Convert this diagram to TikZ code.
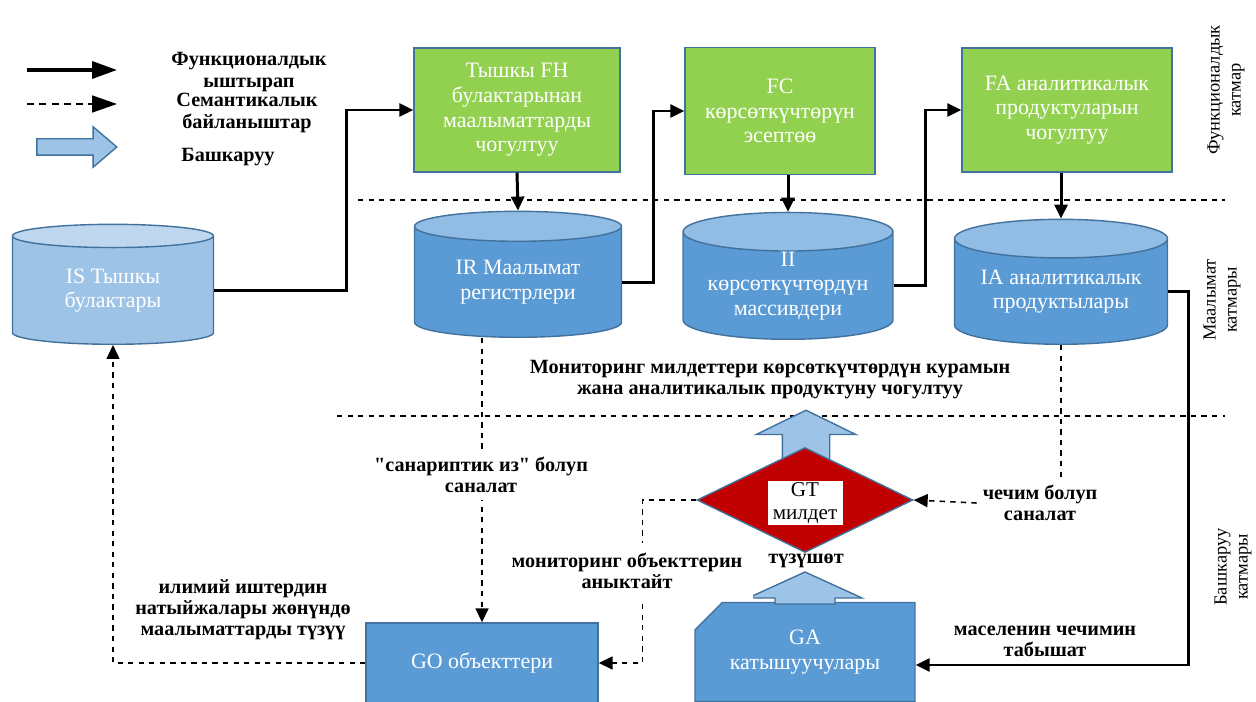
\documentclass[tikz,border=0pt]{standalone}
\usepackage{fontspec}
\setmainfont{Liberation Serif}
\usetikzlibrary{arrows.meta,positioning,shapes.geometric,shapes.arrows,shapes.misc,calc}
\definecolor{boxgreen}{RGB}{146,208,80}
\definecolor{edgeblue}{RGB}{65,113,156}
\definecolor{cylblue}{RGB}{91,155,213}
\definecolor{cyltop}{RGB}{145,188,228}
\definecolor{paleblue}{RGB}{157,195,230}
\definecolor{paletop}{RGB}{190,215,238}
\definecolor{taskred}{RGB}{192,0,0}

\begin{document}
\begin{tikzpicture}[
    x=0.02cm, y=-0.02cm,
    func/.style={rectangle, draw=edgeblue, line width=0.8pt, fill=boxgreen, text=white, align=center, inner sep=0pt, font=\fontsize{12.5}{14}\selectfont},
    store/.style={cylinder, shape border rotate=90, aspect=0.24, draw=edgeblue, line width=0.8pt, cylinder uses custom fill, cylinder body fill=cylblue, cylinder end fill=cyltop, text=white, align=center, inner sep=0pt, anchor=south, font=\fontsize{12.5}{14}\selectfont},
    source/.style={store, cylinder body fill=paleblue, cylinder end fill=paletop},
    actor/.style={rectangle, draw=edgeblue, line width=0.8pt, fill=cylblue, text=white, align=center, inner sep=0pt, font=\fontsize{12.5}{14}\selectfont},
    ctrl/.style={single arrow, draw=edgeblue, line width=0.8pt, fill=paleblue},
    ctrlpath/.style={draw=edgeblue, line width=0.8pt, fill=paleblue, line join=miter},
    lbl/.style={align=center, font=\fontsize{11.5}{12}\selectfont\bfseries},
    layer/.style={align=center, rotate=90, font=\fontsize{10.5}{12}\selectfont},
    flow/.style={-{Triangle[length=0.28cm, width=0.26cm]}, line width=1.7pt},
    sem/.style={-{Triangle[length=0.28cm, width=0.26cm]}, line width=0.9pt, dashed},
    bigtip/.style={-{Triangle[length=0.5cm, width=0.34cm]}}
]
    \useasboundingbox (0,0) rectangle (1256,702);

    % legend
    \coordinate (lgs1) at (27,70);  \coordinate (lgs2) at (117,70);
    \coordinate (lgd1) at (27,104); \coordinate (lgd2) at (117,104);
    \draw[bigtip, line width=2pt] (lgs1) -- (lgs2);
    \draw[bigtip, line width=1pt, dash pattern=on 4pt off 3pt] (lgd1) -- (lgd2);
    \node[ctrl, inner sep=0.15cm, minimum height=1.6cm, single arrow head extend=0.24cm, single arrow tip angle=81] (lgctrl) at (72,147) {};
    \node[lbl] (lgfunc) at (249,72) {Функционалдык\\ыштырап};
    \node[lbl] (lgsem) at (247,113) {Семантикалык\\байланыштар};
    \node[lbl] (lgman) at (228,157) {Башкаруу};

    % layer borders
    \coordinate (lay1a) at (358,200); \coordinate (lay1b) at (1225,200);
    \coordinate (lay2a) at (337,416); \coordinate (lay2b) at (1225,416);
    \draw[dashed, line width=0.8pt] (lay1a) -- (lay1b);
    \draw[dashed, line width=0.8pt] (lay2a) -- (lay2b);

    % functional layer
    \node[func, minimum width=4.12cm, minimum height=2.48cm] (fh) at (517,110) {Тышкы FH\\булактарынан\\маалыматтарды\\чогултуу};
    \node[func, minimum width=3.8cm, minimum height=2.54cm] (fc) at (780,111) {FC\\көрсөткүчтөрүн\\эсептөө};
    \node[func, minimum width=4.2cm, minimum height=2.48cm] (fa) at (1067,110) {FA аналитикалык\\продуктуларын\\чогултуу};

    % information layer
    \node[source, minimum width=4.02cm, minimum height=2.4cm] (is) at (113,345) {IS Тышкы\\булактары};
    \node[store, minimum width=4.14cm, minimum height=2.52cm] (ir) at (518,338) {IR Маалымат\\регистрлери};
    \node[store, minimum width=4.2cm, minimum height=2.44cm] (ii) at (788,340) {II\\көрсөткүчтөрдүн\\массивдери};
    \node[store, minimum width=4.26cm, minimum height=2.5cm] (ia) at (1061,345) {IA аналитикалык\\продуктылары};

    % control layer
    \node[ctrl, shape border rotate=90, inner sep=0.46cm, minimum height=1.2cm, single arrow head extend=0.52cm, single arrow tip angle=128] (upgt) at (806,446) {};
    \node[diamond, draw=edgeblue, line width=0.8pt, fill=taskred, minimum width=4.32cm, minimum height=2.1cm, inner sep=0pt] (gt) at (805,500) {};
    \node[rectangle, fill=white, minimum width=1.5cm, minimum height=0.74cm, inner sep=1pt, align=center, font=\fontsize{12}{13}\selectfont] (gtl) at (805,503) {GT\\милдет};
    \node[actor, chamfered rectangle, chamfered rectangle corners=north west, chamfered rectangle xsep=0.5cm, minimum width=4.4cm, minimum height=1.98cm] (ga) at (805,652) {GA\\катышуучулары};
    \node[actor, minimum width=4.64cm, minimum height=1.6cm] (go) at (482,663) {GO объекттери};
    % participants form the task
    \draw[ctrlpath] (775,604) -- (775,598) -- (748,598) -- (805,572) -- (862,598) -- (835,598) -- (835,604) -- cycle;

    % layer names
    \node[layer] (nfunc) at (1226,90) {Функционалдык\\катмар};
    \node[layer] (ninfo) at (1222,300) {Маалымат\\катмары};
    \node[layer] (nctrl) at (1233,567) {Башкаруу\\катмары};

    % functional sequence
    \draw[flow] (is.east) -- ++(132,0) |- (fh.west);
    \draw[flow] (fh.south) -- (ir.north);
    \draw[flow] (ir.east) -- ++(31,0) |- (fc.west);
    \draw[flow] (ii.north |- fc.south) -- (ii.north);
    \draw[flow] (ii.east) -- ++(32,0) |- (fa.west);
    \draw[flow] (ia.north |- fa.south) -- (ia.north);
    \draw[flow] (ia.east) -- ++(20,0) |- ([yshift=-0.26cm]ga.east);

    % semantic links
    \draw[sem] (go.north |- ir.south) -- (go.north);
    \node[lbl, fill=white, inner sep=4pt] (ldig) at (481,475) {\textquotedbl санариптик из\textquotedbl{} болуп\\саналат};
    \node[lbl] (ldec) at (1040,503) {чечим болуп\\саналат};
    \draw[sem, -] (ia.south) -- (ia.south |- ldec.north);
    \draw[sem] (ldec.west) -- (gt.east);
    \draw[sem] (gt.west) -- ++(-54,0) |- (go.east);
    \node[lbl, fill=white, inner sep=6pt] (lobj) at (627,571) {мониторинг объекттерин\\аныктайт};
    \draw[sem] (go.west) -| (is.south);
    \node[lbl] (lres) at (243,610) {илимий иштердин\\натыйжалары жөнүндө\\маалыматтарды түзүү};

    % other labels
    \node[lbl] (lmon) at (770,380) {Мониторинг милдеттери көрсөткүчтөрдүн курамын\\жана аналитикалык продуктуну чогултуу};
    \node[lbl] (lform) at (806,561) {түзүшөт};
    \node[lbl] (lsol) at (1045,641) {маселенин чечимин\\табышат};
\end{tikzpicture}
\end{document}
